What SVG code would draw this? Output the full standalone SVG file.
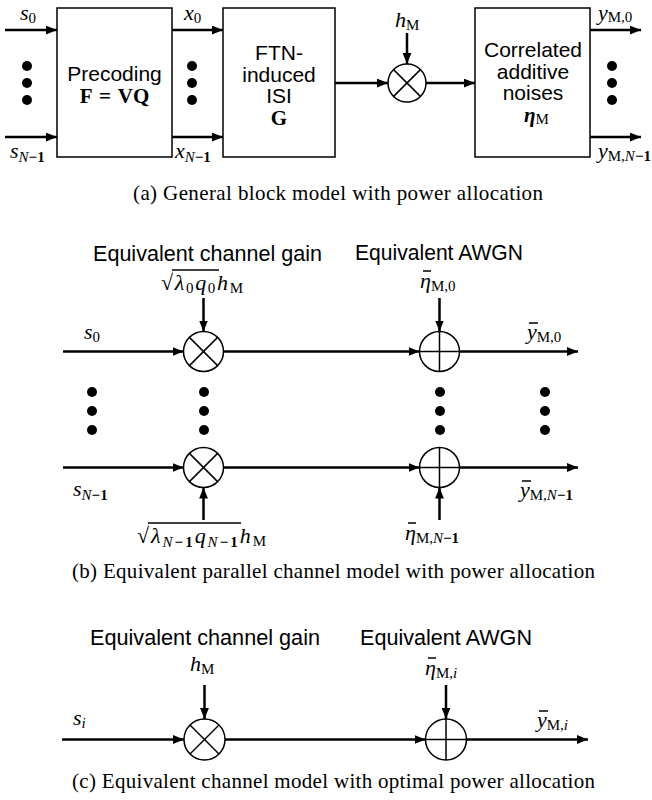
<svg xmlns="http://www.w3.org/2000/svg" width="652" height="800" viewBox="0 0 652 800">
<style>
.box{fill:#fff;stroke:#000;stroke-width:1.5}
.wire{stroke:#000;stroke-width:2.5;fill:none}
.circ{fill:#fff;stroke:#000;stroke-width:1.5}
.thin{stroke:#000;stroke-width:1.5}
.dot{fill:#000}
.sans{font-family:"Liberation Sans",Arial,sans-serif;font-size:21px;fill:#000}
.head{font-family:"Liberation Sans",Arial,sans-serif;font-size:21.5px;fill:#000}
.cap{font-family:"Liberation Serif","Times New Roman",serif;font-size:21px;fill:#000}
.m{font-family:"Liberation Serif","Times New Roman",serif;font-size:22px;font-style:italic;fill:#000}
.s{font-size:15px;font-style:normal}
.si{font-size:15px;font-style:italic}
.sb{font-size:15px;font-style:normal;font-weight:bold}
.bf{font-family:"Liberation Serif","Times New Roman",serif;font-size:21px;font-weight:bold;fill:#000}
.bar{stroke:#000;stroke-width:1.5}
</style>
<defs>
<marker id="arr" viewBox="0 0 10 8" refX="10" refY="4" markerWidth="11" markerHeight="9" markerUnits="userSpaceOnUse" orient="auto">
<path d="M0,0 L10,4 L0,8 z" fill="#000"/>
</marker>
</defs>

<!-- (a) -->
<g id="precoding">
<rect class="box" x="57" y="8" width="115" height="149"/>
<text class="sans" x="114.5" y="81" text-anchor="middle">Precoding</text>
<text class="bf" x="114.5" y="103" text-anchor="middle" word-spacing="2">F = VQ</text>
</g>
<g id="ftn">
<rect class="box" x="223" y="8" width="112" height="149"/>
<text class="sans" x="279" y="60" text-anchor="middle">FTN-</text>
<text class="sans" x="279" y="82" text-anchor="middle">induced</text>
<text class="sans" x="279" y="103" text-anchor="middle">ISI</text>
<text class="bf" x="279" y="125" text-anchor="middle">G</text>
</g>
<g id="mult-a">
<circle class="circ" cx="407" cy="83" r="19"/>
<line class="thin" x1="393.6" y1="69.6" x2="420.4" y2="96.4"/>
<line class="thin" x1="420.4" y1="69.6" x2="393.6" y2="96.4"/>
</g>
<g id="noise">
<rect class="box" x="475" y="8" width="115" height="149"/>
<text class="sans" x="533" y="57" text-anchor="middle">Correlated</text>
<text class="sans" x="533" y="79" text-anchor="middle">additive</text>
<text class="sans" x="533" y="100" text-anchor="middle">noises</text>
<text class="bf" x="524" y="122" font-style="italic">η<tspan class="s" font-weight="normal" dy="2">M</tspan></text>
</g>

<g id="connectors-a">
<line class="wire" x1="5" y1="30" x2="57" y2="30" marker-end="url(#arr)"/>
<line class="wire" x1="5" y1="137" x2="57" y2="137" marker-end="url(#arr)"/>
<line class="wire" x1="172" y1="30" x2="223" y2="30" marker-end="url(#arr)"/>
<line class="wire" x1="172" y1="137" x2="223" y2="137" marker-end="url(#arr)"/>
<line class="wire" x1="335" y1="83" x2="388" y2="83" marker-end="url(#arr)"/>
<line class="wire" x1="426" y1="83" x2="475" y2="83" marker-end="url(#arr)"/>
<line class="wire" x1="407" y1="33" x2="407" y2="64" marker-end="url(#arr)"/>
<line class="wire" x1="590" y1="30" x2="641" y2="30" marker-end="url(#arr)"/>
<line class="wire" x1="590" y1="137" x2="641" y2="137" marker-end="url(#arr)"/>
</g>
<g id="dots-a">
<circle class="dot" cx="27" cy="66" r="5"/><circle class="dot" cx="27" cy="83" r="5"/><circle class="dot" cx="27" cy="100" r="5"/>
<circle class="dot" cx="192" cy="66" r="5"/><circle class="dot" cx="192" cy="83" r="5"/><circle class="dot" cx="192" cy="100" r="5"/>
<circle class="dot" cx="612" cy="66" r="5"/><circle class="dot" cx="612" cy="83" r="5"/><circle class="dot" cx="612" cy="100" r="5"/>
</g>
<g id="labels-a">
<text class="m" x="20" y="20" font-size="21">s<tspan class="s" dy="3">0</tspan></text>
<text class="m" x="10" y="158">s<tspan class="si" dy="4">N</tspan><tspan class="sb">−1</tspan></text>
<text class="m" x="184" y="20" font-size="21">x<tspan class="s" dy="3">0</tspan></text>
<text class="m" x="175" y="158">x<tspan class="si" dy="4">N</tspan><tspan class="sb">−1</tspan></text>
<text class="m" x="395" y="27">h<tspan class="s" dy="3">M</tspan></text>
<text class="m" x="598" y="20" font-size="21">y<tspan class="s" dy="2">M,0</tspan></text>
<text class="m" x="598" y="158">y<tspan class="s" dy="3">M,</tspan><tspan class="si">N</tspan><tspan class="sb">−1</tspan></text>
</g>
<text class="cap" x="133" y="200" textLength="410" lengthAdjust="spacing">(a) General block model with power allocation</text>

<!-- (b) -->
<text class="head" x="93" y="261" textLength="229" lengthAdjust="spacingAndGlyphs">Equivalent channel gain</text>
<text class="head" x="355" y="260" textLength="168" lengthAdjust="spacingAndGlyphs">Equivalent AWGN</text>
<g id="mult-b0">
<circle class="circ" cx="203.5" cy="351.5" r="20"/>
<line class="thin" x1="189.4" y1="337.4" x2="217.6" y2="365.6"/>
<line class="thin" x1="217.6" y1="337.4" x2="189.4" y2="365.6"/>
</g>
<g id="add-b0">
<circle class="circ" cx="439.5" cy="351.5" r="20"/>
<line class="thin" x1="419.5" y1="351.5" x2="459.5" y2="351.5"/>
<line class="thin" x1="439.5" y1="331.5" x2="439.5" y2="371.5"/>
</g>
<g id="mult-b1">
<circle class="circ" cx="203.5" cy="467.5" r="20"/>
<line class="thin" x1="189.4" y1="453.4" x2="217.6" y2="481.6"/>
<line class="thin" x1="217.6" y1="453.4" x2="189.4" y2="481.6"/>
</g>
<g id="add-b1">
<circle class="circ" cx="439.5" cy="467.5" r="20"/>
<line class="thin" x1="419.5" y1="467.5" x2="459.5" y2="467.5"/>
<line class="thin" x1="439.5" y1="447.5" x2="439.5" y2="487.5"/>
</g>
<g id="connectors-b">
<line class="wire" x1="63" y1="351.5" x2="183.5" y2="351.5" marker-end="url(#arr)"/>
<line class="wire" x1="223.5" y1="351.5" x2="419.5" y2="351.5" marker-end="url(#arr)"/>
<line class="wire" x1="459.5" y1="351.5" x2="578" y2="351.5" marker-end="url(#arr)"/>
<line class="wire" x1="203.5" y1="298" x2="203.5" y2="331.5" marker-end="url(#arr)"/>
<line class="wire" x1="439.5" y1="298" x2="439.5" y2="331.5" marker-end="url(#arr)"/>
<line class="wire" x1="63" y1="467.5" x2="183.5" y2="467.5" marker-end="url(#arr)"/>
<line class="wire" x1="223.5" y1="467.5" x2="419.5" y2="467.5" marker-end="url(#arr)"/>
<line class="wire" x1="459.5" y1="467.5" x2="578" y2="467.5" marker-end="url(#arr)"/>
<line class="wire" x1="203.5" y1="520" x2="203.5" y2="487.5" marker-end="url(#arr)"/>
<line class="wire" x1="439.5" y1="520" x2="439.5" y2="487.5" marker-end="url(#arr)"/>
</g>
<g id="dots-b">
<circle class="dot" cx="92" cy="392" r="5"/><circle class="dot" cx="92" cy="411" r="5"/><circle class="dot" cx="92" cy="430" r="5"/>
<circle class="dot" cx="204" cy="392" r="5"/><circle class="dot" cx="204" cy="411" r="5"/><circle class="dot" cx="204" cy="430" r="5"/>
<circle class="dot" cx="440" cy="392" r="5"/><circle class="dot" cx="440" cy="411" r="5"/><circle class="dot" cx="440" cy="430" r="5"/>
<circle class="dot" cx="545" cy="392" r="5"/><circle class="dot" cx="545" cy="411" r="5"/><circle class="dot" cx="545" cy="430" r="5"/>
</g>
<g id="labels-b">
<text class="m" x="84" y="339">s<tspan class="s" dy="3">0</tspan></text>
<text class="m" x="73" y="496">s<tspan class="si" dy="4">N</tspan><tspan class="sb">−1</tspan></text>
<text class="m" x="161" y="290" textLength="82" lengthAdjust="spacing"><tspan font-style="normal">√</tspan>λ<tspan class="s" dy="3">0</tspan><tspan dy="-3">q</tspan><tspan class="s" dy="3">0</tspan><tspan dy="-3">h</tspan><tspan class="s" dy="3">M</tspan></text>
<line class="bar" x1="172" y1="270" x2="219" y2="270"/>
<text class="m" x="137" y="543" textLength="129" lengthAdjust="spacing"><tspan font-style="normal">√</tspan>λ<tspan class="si" dy="4">N</tspan><tspan class="sb">−1</tspan><tspan dy="-4">q</tspan><tspan class="si" dy="4">N</tspan><tspan class="sb">−1</tspan><tspan dy="-4">h</tspan><tspan class="s" dy="3">M</tspan></text>
<line class="bar" x1="148" y1="523" x2="241" y2="523"/>
<text class="m" x="420" y="288">η<tspan class="s" dy="3">M,0</tspan></text>
<line class="bar" x1="423" y1="271" x2="431" y2="271"/>
<text class="m" x="527" y="339">y<tspan class="s" dy="3">M,0</tspan></text>
<line class="bar" x1="529" y1="323" x2="538" y2="323"/>
<text class="m" x="520" y="497">y<tspan class="s" dy="3">M,</tspan><tspan class="si">N</tspan><tspan class="sb">−1</tspan></text>
<line class="bar" x1="522" y1="481" x2="531" y2="481"/>
<text class="m" x="405" y="540">η<tspan class="s" dy="3">M,</tspan><tspan class="si">N</tspan><tspan class="sb">−1</tspan></text>
<line class="bar" x1="408" y1="523" x2="416" y2="523"/>
</g>
<text class="cap" x="72" y="578" textLength="523" lengthAdjust="spacing">(b) Equivalent parallel channel model with power allocation</text>

<!-- (c) -->
<text class="head" x="90" y="645" textLength="230" lengthAdjust="spacingAndGlyphs">Equivalent channel gain</text>
<text class="head" x="360" y="645" textLength="172" lengthAdjust="spacingAndGlyphs">Equivalent AWGN</text>
<g id="mult-c">
<circle class="circ" cx="204.5" cy="739.5" r="20.5"/>
<line class="thin" x1="190" y1="725" x2="219" y2="754"/>
<line class="thin" x1="219" y1="725" x2="190" y2="754"/>
</g>
<g id="add-c">
<circle class="circ" cx="446" cy="739.5" r="20.5"/>
<line class="thin" x1="425.5" y1="739.5" x2="466.5" y2="739.5"/>
<line class="thin" x1="446" y1="719" x2="446" y2="760"/>
</g>
<g id="connectors-c">
<line class="wire" x1="62" y1="739.5" x2="184" y2="739.5" marker-end="url(#arr)"/>
<line class="wire" x1="225" y1="739.5" x2="425.5" y2="739.5" marker-end="url(#arr)"/>
<line class="wire" x1="466.5" y1="739.5" x2="588" y2="739.5" marker-end="url(#arr)"/>
<line class="wire" x1="204.5" y1="685" x2="204.5" y2="719" marker-end="url(#arr)"/>
<line class="wire" x1="446" y1="685" x2="446" y2="719" marker-end="url(#arr)"/>
</g>
<g id="labels-c">
<text class="m" x="73" y="725">s<tspan class="si" dy="3">i</tspan></text>
<text class="m" x="190" y="671">h<tspan class="s" dy="3">M</tspan></text>
<text class="m" x="425" y="675">η<tspan class="s" dy="3">M,</tspan><tspan class="si">i</tspan></text>
<line class="bar" x1="428" y1="658" x2="436" y2="658"/>
<text class="m" x="537" y="727">y<tspan class="s" dy="3">M,</tspan><tspan class="si">i</tspan></text>
<line class="bar" x1="539" y1="711" x2="548" y2="711"/>
</g>
<text class="cap" x="72" y="788" textLength="523" lengthAdjust="spacing">(c) Equivalent channel model with optimal power allocation</text>
</svg>
